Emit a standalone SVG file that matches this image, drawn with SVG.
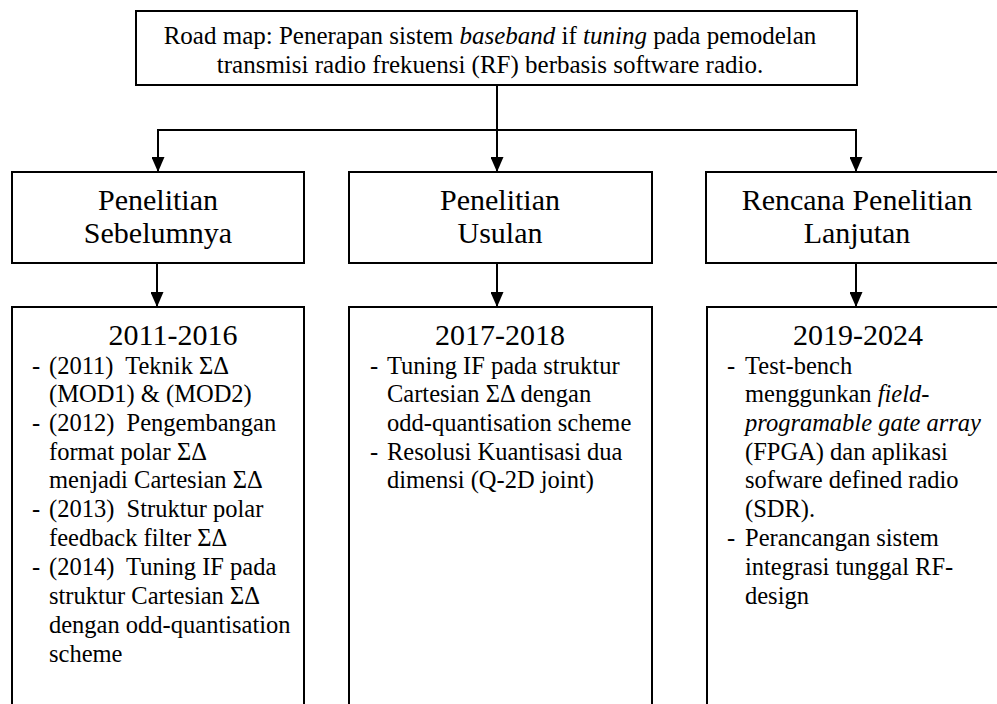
<svg xmlns="http://www.w3.org/2000/svg" width="997" height="704" viewBox="0 0 997 704">
<style>
  .box{fill:#fff;stroke:#000;stroke-width:2}
  .ln{fill:none;stroke:#000;stroke-width:2}
  text{font-family:"Liberation Serif","Times New Roman",serif;fill:#000}
  .top{font-size:25px;text-anchor:middle}
  .hd{font-size:30px;text-anchor:middle}
  .yr{font-size:30px;text-anchor:middle}
  .li{font-size:24.5px}
  .it{font-style:italic}
</style>
<defs>
  <marker id="ah" markerUnits="userSpaceOnUse" markerWidth="16" markerHeight="13" refX="15" refY="6.5" orient="auto">
    <path d="M0,0 L15,6.5 L0,13 Z" fill="#000"/>
  </marker>
</defs>
<g id="connectors">
  <path class="ln" d="M497 85 V130"/>
  <path class="ln" d="M157 130 H857"/>
  <path class="ln" d="M158 130 V172" marker-end="url(#ah)"/>
  <path class="ln" d="M497 130 V172" marker-end="url(#ah)"/>
  <path class="ln" d="M856 130 V172" marker-end="url(#ah)"/>
  <path class="ln" d="M157 263 V307" marker-end="url(#ah)"/>
  <path class="ln" d="M497 263 V307" marker-end="url(#ah)"/>
  <path class="ln" d="M856 263 V307" marker-end="url(#ah)"/>
</g>
<g id="roadmap">
  <rect class="box" x="136" y="11" width="721" height="74"/>
  <text class="top" x="490" y="44">Road map: Penerapan sistem <tspan class="it">baseband</tspan> if <tspan class="it">tuning</tspan> pada pemodelan</text>
  <text class="top" x="490" y="73">transmisi radio frekuensi (RF) berbasis software radio.</text>
</g>
<g id="sebelumnya">
  <rect class="box" x="12" y="172" width="292" height="91"/>
  <text class="hd" x="158" y="210">Penelitian</text>
  <text class="hd" x="158" y="243">Sebelumnya</text>
</g>
<g id="usulan">
  <rect class="box" x="349" y="172" width="303" height="91"/>
  <text class="hd" x="500" y="210">Penelitian</text>
  <text class="hd" x="500" y="243">Usulan</text>
</g>
<g id="lanjutan">
  <rect class="box" x="706" y="172" width="300" height="91"/>
  <text class="hd" x="857" y="210">Rencana Penelitian</text>
  <text class="hd" x="857" y="243">Lanjutan</text>
</g>
<g id="detail-2011-2016">
  <rect class="box" x="12" y="307" width="292" height="410"/>
  <text class="yr" x="173" y="345">2011-2016</text>
  <g class="li">
    <text class="li" x="32" y="374">-</text>
    <text class="li" x="49" y="374" xml:space="preserve">(2011)  Teknik ΣΔ</text>
    <text class="li" x="49" y="402">(MOD1) &amp; (MOD2)</text>
    <text class="li" x="32" y="431">-</text>
    <text class="li" x="49" y="431" xml:space="preserve">(2012)  Pengembangan</text>
    <text class="li" x="49" y="460">format polar ΣΔ</text>
    <text class="li" x="49" y="488">menjadi Cartesian ΣΔ</text>
    <text class="li" x="32" y="517">-</text>
    <text class="li" x="49" y="517" xml:space="preserve">(2013)  Struktur polar</text>
    <text class="li" x="49" y="546">feedback filter ΣΔ</text>
    <text class="li" x="32" y="575">-</text>
    <text class="li" x="49" y="575" xml:space="preserve">(2014)  Tuning IF pada</text>
    <text class="li" x="49" y="604">struktur Cartesian ΣΔ</text>
    <text class="li" x="49" y="633">dengan odd-quantisation</text>
    <text class="li" x="49" y="662">scheme</text>
  </g>
</g>
<g id="detail-2017-2018">
  <rect class="box" x="349" y="307" width="303" height="410"/>
  <text class="yr" x="500" y="345">2017-2018</text>
  <text class="li" x="370" y="374">-</text>
  <text class="li" x="387" y="374">Tuning IF pada struktur</text>
  <text class="li" x="387" y="402">Cartesian ΣΔ dengan</text>
  <text class="li" x="387" y="431">odd-quantisation scheme</text>
  <text class="li" x="370" y="460">-</text>
  <text class="li" x="387" y="460">Resolusi Kuantisasi dua</text>
  <text class="li" x="387" y="488">dimensi (Q-2D joint)</text>
</g>
<g id="detail-2019-2024">
  <rect class="box" x="707" y="307" width="300" height="410"/>
  <text class="yr" x="858" y="345">2019-2024</text>
  <text class="li" x="727" y="374">-</text>
  <text class="li" x="745" y="374">Test-bench</text>
  <text class="li" x="745" y="402">menggunkan <tspan class="it">field-</tspan></text>
  <text class="li it" x="745" y="431">programable gate array</text>
  <text class="li" x="745" y="460">(FPGA) dan aplikasi</text>
  <text class="li" x="745" y="488">sofware defined radio</text>
  <text class="li" x="745" y="517">(SDR).</text>
  <text class="li" x="727" y="546">-</text>
  <text class="li" x="745" y="546">Perancangan sistem</text>
  <text class="li" x="745" y="575">integrasi tunggal RF-</text>
  <text class="li" x="745" y="604">design</text>
</g>
</svg>
